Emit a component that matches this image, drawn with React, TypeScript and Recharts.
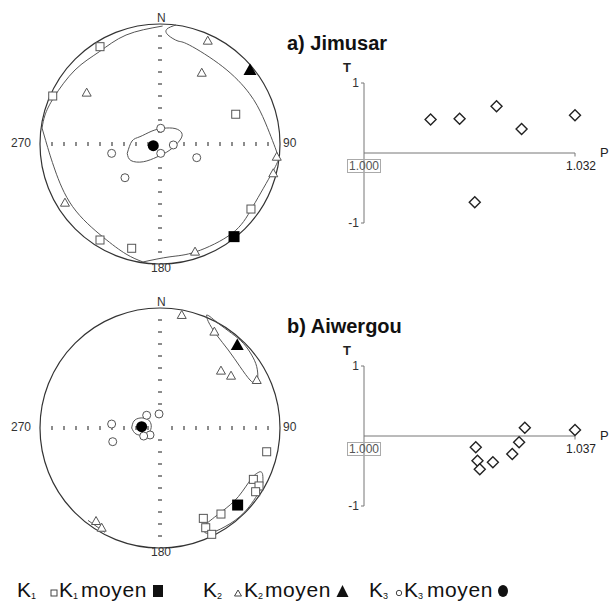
import { ScatterChart, Scatter, XAxis, YAxis, ReferenceDot, ReferenceLine } from 'recharts';

// stereonet coordinates: x east, y north, primitive circle radius = 1
const jimK1 = [{ x: -0.5, y: 0.811 }, { x: -0.894, y: 0.4 }, { x: 0.631, y: 0.248 }, { x: 0.758, y: -0.542 }, { x: -0.5, y: -0.8 }, { x: -0.236, y: -0.869 }];
const jimK1Mean = [{ x: 0.617, y: -0.772 }];
const jimK2 = [{ x: 0.398, y: 0.861 }, { x: 0.348, y: 0.594 }, { x: -0.611, y: 0.428 }, { x: 0.973, y: -0.106 }, { x: 0.944, y: -0.244 }, { x: -0.792, y: -0.489 }, { x: 0.292, y: -0.897 }];
const jimK2Mean = [{ x: 0.75, y: 0.617 }];
const jimK3 = [{ x: 0.006, y: 0.131 }, { x: 0.111, y: -0.008 }, { x: 0.006, y: -0.078 }, { x: -0.403, y: -0.078 }, { x: 0.306, y: -0.114 }, { x: -0.292, y: -0.281 }];
const jimK3Mean = [{ x: -0.056, y: -0.014 }];

const jimCones = [
  [{ x: 0.022, y: 0.983 }, { x: -0.283, y: 0.908 }, { x: -0.506, y: 0.769 }, { x: -0.708, y: 0.617 }, { x: -0.881, y: 0.394 }, { x: -0.958, y: 0.242 }, { x: -0.983, y: 0.133 }],
  [{ x: 0.133, y: 0.992 }, { x: 0.058, y: 0.958 }, { x: 0.067, y: 0.908 }, { x: 0.15, y: 0.858 }, { x: 0.244, y: 0.825 }, { x: 0.523, y: 0.644 }, { x: 0.744, y: 0.422 }, { x: 0.856, y: 0.228 }, { x: 0.925, y: 0.061 }, { x: 0.967, y: -0.05 }, { x: 0.99, y: -0.12 }],
  [{ x: -0.983, y: 0.133 }, { x: -0.942, y: -0.008 }, { x: -0.875, y: -0.217 }, { x: -0.728, y: -0.522 }, { x: -0.478, y: -0.773 }, { x: -0.283, y: -0.917 }, { x: -0.142, y: -0.983 }],
  [{ x: -0.142, y: -0.983 }, { x: 0.083, y: -0.94 }, { x: 0.3, y: -0.898 }, { x: 0.6, y: -0.745 }, { x: 0.773, y: -0.523 }, { x: 0.939, y: -0.231 }, { x: 0.99, y: -0.12 }],
  [{ x: -0.273, y: -0.078 }, { x: -0.233, y: 0.025 }, { x: -0.167, y: 0.061 }, { x: -0.067, y: 0.108 }, { x: 0.028, y: 0.131 }, { x: 0.125, y: 0.129 }, { x: 0.181, y: 0.092 }, { x: 0.167, y: 0.033 }, { x: 0.083, y: -0.05 }, { x: -0.025, y: -0.108 }, { x: -0.139, y: -0.148 }, { x: -0.242, y: -0.138 }, { x: -0.273, y: -0.078 }],
];

const awK1 = [{ x: 0.889, y: -0.198 }, { x: 0.778, y: -0.428 }, { x: 0.825, y: -0.483 }, { x: 0.797, y: -0.531 }, { x: 0.508, y: -0.717 }, { x: 0.361, y: -0.753 }, { x: 0.381, y: -0.831 }, { x: 0.431, y: -0.886 }];
const awK1Mean = [{ x: 0.647, y: -0.642 }];
const awK2 = [{ x: 0.181, y: 0.942 }, { x: 0.453, y: 0.803 }, { x: 0.508, y: 0.478 }, { x: 0.592, y: 0.436 }, { x: 0.806, y: 0.4 }, { x: -0.533, y: -0.775 }, { x: -0.486, y: -0.831 }];
const awK2Mean = [{ x: 0.644, y: 0.692 }];
const awK3 = [{ x: -0.403, y: 0.033 }, { x: -0.394, y: -0.114 }, { x: -0.111, y: 0.106 }, { x: -0.008, y: 0.117 }, { x: -0.083, y: -0.058 }, { x: -0.136, y: -0.067 }];
const awK3Mean = [{ x: -0.153, y: 0.011 }];

const awCones = [
  [{ x: 0.389, y: 0.942 }, { x: 0.403, y: 0.886 }, { x: 0.472, y: 0.775 }, { x: 0.569, y: 0.65 }, { x: 0.667, y: 0.511 }, { x: 0.75, y: 0.4 }, { x: 0.792, y: 0.378 }, { x: 0.814, y: 0.414 }, { x: 0.806, y: 0.511 }, { x: 0.764, y: 0.608 }, { x: 0.694, y: 0.706 }, { x: 0.597, y: 0.789 }, { x: 0.486, y: 0.872 }, { x: 0.417, y: 0.928 }, { x: 0.389, y: 0.942 }],
  [{ x: 0.833, y: -0.364 }, { x: 0.764, y: -0.419 }, { x: 0.653, y: -0.572 }, { x: 0.514, y: -0.697 }, { x: 0.375, y: -0.808 }, { x: 0.358, y: -0.85 }, { x: 0.403, y: -0.878 }, { x: 0.542, y: -0.822 }, { x: 0.708, y: -0.697 }, { x: 0.833, y: -0.517 }, { x: 0.858, y: -0.433 }, { x: 0.853, y: -0.378 }, { x: 0.833, y: -0.364 }],
  [{ x: -0.236, y: 0 }, { x: -0.217, y: 0.058 }, { x: -0.167, y: 0.083 }, { x: -0.108, y: 0.075 }, { x: -0.075, y: 0.033 }, { x: -0.083, y: -0.025 }, { x: -0.133, y: -0.058 }, { x: -0.2, y: -0.05 }, { x: -0.236, y: 0 }],
  [{ x: -0.6, y: -0.77 }, { x: -0.458, y: -0.87 }],
];

const axisTicks = [-0.9, -0.8, -0.7, -0.6, -0.5, -0.4, -0.3, -0.2, -0.1, 0.1, 0.2, 0.3, 0.4, 0.5, 0.6, 0.7, 0.8, 0.9];

// T-P diagrams
const jimP = [1.0101, 1.0145, 1.0201, 1.0239, 1.032, 1.0168];
const jimT = [0.478, 0.488, 0.669, 0.344, 0.54, -0.703];
const awP = [1.0196, 1.0199, 1.0203, 1.0226, 1.026, 1.0272, 1.0282, 1.037];
const awT = [-0.161, -0.353, -0.476, -0.376, -0.257, -0.09, 0.119, 0.086];

const FONT = '"Liberation Sans", Arial, sans-serif';

const OpenSquare = (p: any) => <rect x={p.cx - 4} y={p.cy - 4} width={8} height={8} fill="#fff" stroke="#555" strokeWidth={1} />;
const FilledSquare = (p: any) => <rect x={p.cx - 5.5} y={p.cy - 5.5} width={11} height={11} fill="#000" />;
const OpenTriangle = (p: any) => <polygon points={`${p.cx},${p.cy - 4.5} ${p.cx + 4.5},${p.cy + 3.5} ${p.cx - 4.5},${p.cy + 3.5}`} fill="#fff" stroke="#555" strokeWidth={1} />;
const FilledTriangle = (p: any) => <polygon points={`${p.cx},${p.cy - 6.5} ${p.cx + 6.5},${p.cy + 5} ${p.cx - 6.5},${p.cy + 5}`} fill="#000" />;
const OpenCircle = (p: any) => <circle cx={p.cx} cy={p.cy} r={4} fill="#fff" stroke="#555" strokeWidth={1} />;
const FilledCircle = (p: any) => <circle cx={p.cx} cy={p.cy} r={5.5} fill="#000" />;
const HTick = (p: any) => <line x1={p.cx} x2={p.cx} y1={p.cy - 2} y2={p.cy + 2} stroke="#666" strokeWidth={1.5} />;
const VTick = (p: any) => <line x1={p.cx - 2} x2={p.cx + 2} y1={p.cy} y2={p.cy} stroke="#666" strokeWidth={1.5} />;
const Nothing = () => <g />;
const Diamond = (p: any) => <polygon points={`${p.cx},${p.cy - 5.5} ${p.cx + 5.5},${p.cy} ${p.cx},${p.cy + 5.5} ${p.cx - 5.5},${p.cy}`} fill="#fff" stroke="#222" strokeWidth={1.4} />;

const label = (text: string, left: number, top: number, extra: any = {}) => (
  <div style={{ position: 'absolute', left, top, fontFamily: FONT, fontSize: 12, color: '#333', lineHeight: '12px', whiteSpace: 'nowrap', ...extra }}>{text}</div>
);

function Stereonet({ top, k1, k1m, k2, k2m, k3, k3m, cones }: any) {
  const hTicks = axisTicks.map((v) => ({ x: v, y: 0 }));
  const vTicks = axisTicks.map((v) => ({ x: 0, y: v }));
  return (
    <>
      <div style={{ position: 'absolute', left: 30, top: top - 130 }}>
        <ScatterChart width={260} height={260} margin={{ top: 10, right: 10, bottom: 10, left: 10 }}>
          <XAxis type="number" dataKey="x" domain={[-1, 1]} hide />
          <YAxis type="number" dataKey="y" domain={[-1, 1]} hide />
          <ReferenceDot x={0} y={0} r={120} fill="none" stroke="#333" strokeWidth={1.2} />
          <Scatter data={hTicks} shape={HTick} isAnimationActive={false} />
          <Scatter data={vTicks} shape={VTick} isAnimationActive={false} />
          {cones.map((c: any, i: number) => (
            <Scatter key={i} data={c} line={{ stroke: '#555', strokeWidth: 1 }} lineJointType="natural" shape={Nothing} isAnimationActive={false} />
          ))}
          <Scatter data={k1} shape={OpenSquare} isAnimationActive={false} />
          <Scatter data={k2} shape={OpenTriangle} isAnimationActive={false} />
          <Scatter data={k3} shape={OpenCircle} isAnimationActive={false} />
          <Scatter data={k1m} shape={FilledSquare} isAnimationActive={false} />
          <Scatter data={k2m} shape={FilledTriangle} isAnimationActive={false} />
          <Scatter data={k3m} shape={FilledCircle} isAnimationActive={false} />
        </ScatterChart>
      </div>
      {label('N', 157, top - 132)}
      {label('270', 11, top - 7)}
      {label('90', 283, top - 7)}
      {label('180', 151, top + 118)}
    </>
  );
}

function TPPlot({ top, title, ps, ts, pMax }: any) {
  const data = ps.map((p: number, i: number) => ({ p, t: ts[i] }));
  return (
    <>
      <div style={{ position: 'absolute', left: 287, top: top - 120, fontFamily: FONT, fontSize: 20, fontWeight: 'bold', color: '#111', lineHeight: '20px' }}>{title}</div>
      <div style={{ position: 'absolute', left: 330, top: top - 94 }}>
        <ScatterChart width={280} height={180} margin={{ top: 24, right: 35, bottom: 16, left: 14 }}>
          <XAxis type="number" dataKey="p" domain={[1, pMax]} hide />
          <YAxis type="number" dataKey="t" domain={[-1, 1]} ticks={[-1, 1]} width={20} tickSize={3}
            axisLine={{ stroke: '#777' }} tickLine={{ stroke: '#777' }} tick={{ fontSize: 12, fill: '#333', fontFamily: FONT }} />
          <ReferenceLine segment={[{ x: 1, y: 0 }, { x: pMax, y: 0 }]} stroke="#777" />
          <ReferenceLine segment={[{ x: pMax, y: 0 }, { x: pMax, y: -0.05 }]} stroke="#777" />
          <Scatter data={data} shape={Diamond} isAnimationActive={false} />
        </ScatterChart>
      </div>
      {label('T', 343, top - 91, { fontWeight: 'bold', fontSize: 13, color: '#222' })}
      {label('1.000', 347, top + 6, { border: '1px solid #aaa', padding: '0 1px', color: '#555' })}
      {label(pMax.toFixed(3), 566, top + 7, { color: '#222' })}
      {label('P', 600, top - 6, { fontSize: 13, color: '#222' })}
    </>
  );
}

const legendText = (text: string, left: number, spacing = 0) => (
  <span style={{ position: 'absolute', left, top: 579, fontFamily: FONT, fontSize: 21, letterSpacing: spacing, lineHeight: '21px', color: '#111', whiteSpace: 'nowrap' }}>{text}</span>
);
const legendSub = (text: string, left: number) => (
  <span style={{ position: 'absolute', left, top: 591, fontFamily: FONT, fontSize: 9, lineHeight: '10px', color: '#111' }}>{text}</span>
);
const legendMark = (left: number, el: any) => (
  <svg style={{ position: 'absolute', left, top: 584 }} width={14} height={14}>{el}</svg>
);

export default function App() {
  return (
    <div style={{ position: 'absolute', left: 0, top: 0, width: 610, height: 603, background: '#fff', overflow: 'hidden' }}>
      <Stereonet top={144} k1={jimK1} k1m={jimK1Mean} k2={jimK2} k2m={jimK2Mean} k3={jimK3} k3m={jimK3Mean} cones={jimCones} />
      <Stereonet top={428} k1={awK1} k1m={awK1Mean} k2={awK2} k2m={awK2Mean} k3={awK3} k3m={awK3Mean} cones={awCones} />
      <TPPlot top={153} title="a) Jimusar" ps={jimP} ts={jimT} pMax={1.032} />
      <TPPlot top={436} title="b) Aiwergou" ps={awP} ts={awT} pMax={1.037} />

      {legendText('K', 17)}{legendSub('1', 31)}
      {legendMark(49, <rect x={2} y={6} width={6} height={6} fill="#fff" stroke="#444" strokeWidth={1} />)}
      {legendText('K', 59)}{legendSub('1', 73)}
      {legendText('moyen', 81, 0.6)}
      {legendMark(152, <rect x={1} y={1} width={10} height={12} fill="#111" />)}

      {legendText('K', 203)}{legendSub('2', 217)}
      {legendMark(233, <polygon points="5,6 8.5,12 1.5,12" fill="#fff" stroke="#444" strokeWidth={1} />)}
      {legendText('K', 244)}{legendSub('2', 258)}
      {legendText('moyen', 265, 0.6)}
      {legendMark(336, <polygon points="6.5,1 12.5,13 0.5,13" fill="#111" />)}

      {legendText('K', 369)}{legendSub('3', 383)}
      {legendMark(395, <circle cx={4} cy={9} r={2.7} fill="#fff" stroke="#444" strokeWidth={1} />)}
      {legendText('K', 404)}{legendSub('3', 418)}
      {legendText('moyen', 427, 0.6)}
      {legendMark(497, <ellipse cx={6} cy={7} rx={5} ry={6} fill="#111" />)}
    </div>
  );
}
